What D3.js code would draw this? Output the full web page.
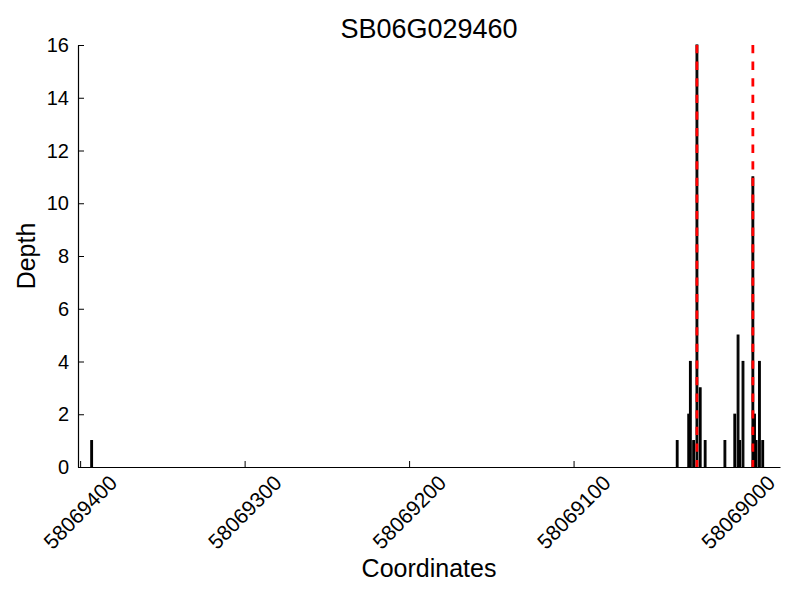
<!DOCTYPE html>
<html>
<head>
<meta charset="utf-8">
<script src="https://cdn.jsdelivr.net/npm/d3@7"></script>
<style>
  body { margin: 0; background: #fff; }
  text { font-family: "Liberation Sans", Arial, sans-serif; fill: #000; }
</style>
</head>
<body>
<svg id="chart" width="800" height="600"></svg>
<script>
// depth per coordinate
const positions = [58069393, 58069037, 58069030, 58069029, 58069027, 58069025, 58069023, 58069020,
                   58069008, 58069002, 58069000, 58068999, 58068997, 58068991, 58068990, 58068989, 58068987, 58068985];
const depths    = [1, 1, 2, 4, 1, 16, 3, 1,
                   1, 2, 5, 1, 4, 11, 2, 1, 4, 1];
const markers = [58069025, 58068991];   // red dashed lines
const xTicks = [58069400, 58069300, 58069200, 58069100, 58069000];
const yTicks = [0, 2, 4, 6, 8, 10, 12, 14, 16];
const xDomain = [58069401.3, 58068974.5];
const yDomain = [0, 16];

const svg = d3.select('#chart');
const mLeft = 78, mRight = 780, mTop = 45, mBottom = 467;

const x = d3.scaleLinear().domain(xDomain).range([mLeft, mRight]);
const y = d3.scaleLinear().domain(yDomain).range([mBottom, mTop]);
const unit = Math.abs(x(1) - x(0));

const data = positions.map((p, i) => ({ pos: p, depth: depths[i] }));

// bars
svg.append('g').selectAll('rect')
    .data(data)
    .enter()
    .append('rect')
    .attr('x', d => x(d.pos) - unit / 2)
    .attr('width', unit)
    .attr('y', d => y(d.depth))
    .attr('height', d => y(0) - y(d.depth))
    .attr('fill', '#000')
    .attr('stroke', '#000')
    .attr('stroke-width', 1.2);

// marker lines
svg.append('g').selectAll('line')
    .data(markers)
    .enter()
    .append('line')
    .attr('x1', d => x(d)).attr('x2', d => x(d))
    .attr('y1', y(yDomain[1])).attr('y2', y(0))
    .attr('stroke', '#ff0000')
    .attr('stroke-width', 2.8)
    .attr('stroke-dasharray', '8.3,8.3');

// axes (ticks point inward, like old matplotlib)
const xAxis = svg.append('g')
    .attr('transform', `translate(0,${mBottom})`)
    .call(d3.axisBottom(x).tickValues(xTicks).tickSizeInner(-6).tickSizeOuter(0).tickFormat(''));
const yAxis = svg.append('g')
    .attr('transform', `translate(${mLeft},0)`)
    .call(d3.axisLeft(y).tickValues(yTicks).tickSizeInner(-6).tickSizeOuter(0).tickFormat(''));
[xAxis, yAxis].forEach(a => {
    a.select('.domain').attr('stroke', '#000').attr('stroke-width', 1.2);
    a.selectAll('.tick line').attr('stroke', '#000').attr('stroke-width', 1);
});

// tick labels
svg.append('g').selectAll('text')
    .data(yTicks)
    .enter()
    .append('text')
    .attr('x', mLeft - 9)
    .attr('y', d => y(d))
    .attr('dy', '0.36em')
    .attr('text-anchor', 'end')
    .style('font-size', '20px')
    .text(d => d);

svg.append('g').selectAll('text')
    .data(xTicks)
    .enter()
    .append('text')
    .attr('transform', d => `translate(${x(d)},${mBottom + 45}) rotate(-45)`)
    .attr('dy', '0.36em')
    .attr('text-anchor', 'middle')
    .style('font-size', '21px')
    .text(d => d);

// titles
svg.append('text')
    .attr('x', (mLeft + mRight) / 2).attr('y', 38)
    .attr('text-anchor', 'middle')
    .style('font-size', '27px')
    .text('SB06G029460');

svg.append('text')
    .attr('x', (mLeft + mRight) / 2).attr('y', 577)
    .attr('text-anchor', 'middle')
    .style('font-size', '25px')
    .text('Coordinates');

svg.append('text')
    .attr('transform', `translate(35,${(mTop + mBottom) / 2}) rotate(-90)`)
    .attr('text-anchor', 'middle')
    .style('font-size', '25px')
    .text('Depth');
</script>
</body>
</html>
